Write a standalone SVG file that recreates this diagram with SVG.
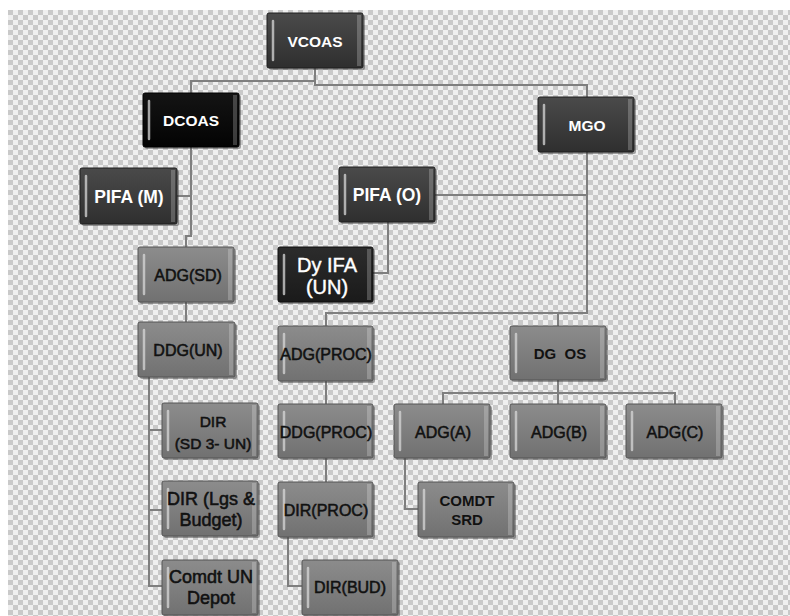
<svg xmlns="http://www.w3.org/2000/svg" width="790" height="616" viewBox="0 0 790 616">
<defs>
<pattern id="chk" x="8" y="10" width="10" height="10" patternUnits="userSpaceOnUse">
<rect width="10" height="10" fill="#efefef"/>
<rect width="5" height="5" fill="#c9c9c9"/>
<rect x="5" y="5" width="5" height="5" fill="#c9c9c9"/>
</pattern>
<linearGradient id="gDark" x1="0" y1="0" x2="0" y2="1">
<stop offset="0" stop-color="#4a4a4a"/><stop offset="1" stop-color="#2f2f2f"/>
</linearGradient>
<linearGradient id="gBlack" x1="0" y1="0" x2="0" y2="1">
<stop offset="0" stop-color="#141414"/><stop offset="1" stop-color="#030303"/>
</linearGradient>
<linearGradient id="gDy" x1="0" y1="0" x2="0" y2="1">
<stop offset="0" stop-color="#2c2c2c"/><stop offset="1" stop-color="#1a1a1a"/>
</linearGradient>
<linearGradient id="gGray" x1="0" y1="0" x2="0" y2="1">
<stop offset="0" stop-color="#8c8c8c"/><stop offset="1" stop-color="#717171"/>
</linearGradient>
</defs>
<style>
.conn path{fill:none;stroke:#7e7e7e;stroke-width:2}
.shadow{fill:#3a3a3a;opacity:.45}
.dark{fill:url(#gDark);stroke:#1e1e1e;stroke-width:1}
.black{fill:url(#gBlack);stroke:#000;stroke-width:1}
.dy{fill:url(#gDy);stroke:#0e0e0e;stroke-width:1}
.gray{fill:url(#gGray);stroke:#555;stroke-width:1}
.hl{stroke:#d8d8d8;stroke-width:2.5;stroke-linecap:round;opacity:.75}
.hlr{fill:#ffffff;opacity:.22}
.tw{fill:#ffffff;font-family:"Liberation Sans",Arial,sans-serif;font-weight:bold;text-anchor:middle}
.tb{fill:#111111;font-family:"Liberation Sans",Arial,sans-serif;text-anchor:middle;stroke:#111;stroke-width:0.55}
.tbb{fill:#111111;font-family:"Liberation Sans",Arial,sans-serif;font-weight:bold;text-anchor:middle}
</style>
<rect width="790" height="616" fill="#ffffff"/>
<rect x="8" y="10" width="782" height="606" fill="url(#chk)"/>

<g class="conn" id="connectors">
<path d="M315,68 V85 H587 V97"/>
<path d="M315,81 H191 V93"/>
<path d="M191,147 V196 H177"/>
<path d="M191,196 V236 H186 V247"/>
<path d="M186,302 V322"/>
<path d="M149,377 V586 H162"/>
<path d="M149,430 H162"/>
<path d="M149,510 H162"/>
<path d="M587,152 V313 H326 V326"/>
<path d="M587,195 H435"/>
<path d="M558,313 V326"/>
<path d="M388,222 V273 H373"/>
<path d="M326,381 V404"/>
<path d="M326,458 V482"/>
<path d="M288,537 V586 H302"/>
<path d="M558,380 V404"/>
<path d="M443,404 V393 H675 V404"/>
<path d="M405,458 V509 H418"/>
</g>

<g id="vcoas">
<rect class="shadow" x="269" y="15" width="96" height="55" rx="2"/>
<rect class="dark" x="267" y="13" width="96" height="55" rx="2"/>
<line class="hl" x1="273" y1="21" x2="273" y2="60"/>
<rect class="hlr" x="357" y="15" width="4" height="51"/>
<text class="tw" x="315" y="47" font-size="15.5">VCOAS</text>
</g>
<g id="dcoas">
<rect class="shadow" x="145" y="95" width="96" height="54" rx="2"/>
<rect class="black" x="143" y="93" width="96" height="54" rx="2"/>
<line class="hl" x1="149" y1="101" x2="149" y2="139"/>
<rect class="hlr" x="233" y="95" width="4" height="50"/>
<text class="tw" x="191" y="126" font-size="15.5">DCOAS</text>
</g>
<g id="mgo">
<rect class="shadow" x="540" y="99" width="96" height="55" rx="2"/>
<rect class="dark" x="538" y="97" width="96" height="55" rx="2"/>
<line class="hl" x1="544" y1="105" x2="544" y2="144"/>
<rect class="hlr" x="628" y="99" width="4" height="51"/>
<text class="tw" x="587" y="131" font-size="15.5">MGO</text>
</g>
<g id="pifa-m">
<rect class="shadow" x="82" y="170" width="97" height="56" rx="2"/>
<rect class="dark" x="80" y="168" width="97" height="56" rx="2"/>
<line class="hl" x1="86" y1="176" x2="86" y2="216"/>
<rect class="hlr" x="171" y="170" width="4" height="52"/>
<text class="tw" x="129" y="203" font-size="17.5">PIFA (M)</text>
</g>
<g id="pifa-o">
<rect class="shadow" x="341" y="169" width="96" height="55" rx="2"/>
<rect class="dark" x="339" y="167" width="96" height="55" rx="2"/>
<line class="hl" x1="345" y1="175" x2="345" y2="214"/>
<rect class="hlr" x="429" y="169" width="4" height="51"/>
<text class="tw" x="387" y="201" font-size="17.5">PIFA (O)</text>
</g>
<g id="adg-sd">
<rect class="shadow" x="140" y="249" width="96" height="55" rx="2"/>
<rect class="gray" x="138" y="247" width="96" height="55" rx="2"/>
<line class="hl" x1="144" y1="255" x2="144" y2="294"/>
<rect class="hlr" x="228" y="249" width="4" height="51"/>
<text class="tb" x="188" y="281" font-size="16">ADG(SD)</text>
</g>
<g id="dy-ifa">
<rect class="shadow" x="280" y="249" width="95" height="55" rx="2"/>
<rect class="dy" x="278" y="247" width="95" height="55" rx="2"/>
<line class="hl" x1="284" y1="255" x2="284" y2="294"/>
<rect class="hlr" x="367" y="249" width="4" height="51"/>
<text x="327" y="272" font-size="20" fill="#ffffff" stroke="#ffffff" stroke-width="0.4" font-family="Liberation Sans, Arial, sans-serif" text-anchor="middle">Dy IFA</text>
<text x="327" y="294" font-size="20" fill="#ffffff" stroke="#ffffff" stroke-width="0.4" font-family="Liberation Sans, Arial, sans-serif" text-anchor="middle">(UN)</text>
</g>
<g id="ddg-un">
<rect class="shadow" x="140" y="324" width="97" height="55" rx="2"/>
<rect class="gray" x="138" y="322" width="97" height="55" rx="2"/>
<line class="hl" x1="144" y1="330" x2="144" y2="369"/>
<rect class="hlr" x="229" y="324" width="4" height="51"/>
<text class="tb" x="188" y="356" font-size="16">DDG(UN)</text>
</g>
<g id="adg-proc">
<rect class="shadow" x="280" y="328" width="95" height="55" rx="2"/>
<rect class="gray" x="278" y="326" width="95" height="55" rx="2"/>
<line class="hl" x1="284" y1="334" x2="284" y2="373"/>
<rect class="hlr" x="367" y="328" width="4" height="51"/>
<text class="tb" x="326" y="360" font-size="16">ADG(PROC)</text>
</g>
<g id="dg-os">
<rect class="shadow" x="512" y="328" width="96" height="54" rx="2"/>
<rect class="gray" x="510" y="326" width="96" height="54" rx="2"/>
<line class="hl" x1="516" y1="334" x2="516" y2="372"/>
<rect class="hlr" x="600" y="328" width="4" height="50"/>
<text class="tbb" x="560" y="359" font-size="15" xml:space="preserve">DG  OS</text>
</g>
<g id="dir-sd">
<rect class="shadow" x="164" y="405" width="96" height="55" rx="2"/>
<rect class="gray" x="162" y="403" width="96" height="55" rx="2"/>
<line class="hl" x1="168" y1="411" x2="168" y2="450"/>
<rect class="hlr" x="252" y="405" width="4" height="51"/>
<text class="tb" x="213" y="427" font-size="15.5">DIR</text>
<text class="tb" x="213" y="449" font-size="15.5">(SD 3- UN)</text>
</g>
<g id="ddg-proc">
<rect class="shadow" x="280" y="406" width="95" height="54" rx="2"/>
<rect class="gray" x="278" y="404" width="95" height="54" rx="2"/>
<line class="hl" x1="284" y1="412" x2="284" y2="450"/>
<rect class="hlr" x="367" y="406" width="4" height="50"/>
<text class="tb" x="326" y="438" font-size="16">DDG(PROC)</text>
</g>
<g id="adg-a">
<rect class="shadow" x="396" y="406" width="96" height="54" rx="2"/>
<rect class="gray" x="394" y="404" width="96" height="54" rx="2"/>
<line class="hl" x1="400" y1="412" x2="400" y2="450"/>
<rect class="hlr" x="484" y="406" width="4" height="50"/>
<text class="tb" x="443" y="438" font-size="16">ADG(A)</text>
</g>
<g id="adg-b">
<rect class="shadow" x="512" y="406" width="96" height="54" rx="2"/>
<rect class="gray" x="510" y="404" width="96" height="54" rx="2"/>
<line class="hl" x1="516" y1="412" x2="516" y2="450"/>
<rect class="hlr" x="600" y="406" width="4" height="50"/>
<text class="tb" x="559" y="438" font-size="16">ADG(B)</text>
</g>
<g id="adg-c">
<rect class="shadow" x="628" y="406" width="96" height="54" rx="2"/>
<rect class="gray" x="626" y="404" width="96" height="54" rx="2"/>
<line class="hl" x1="632" y1="412" x2="632" y2="450"/>
<rect class="hlr" x="716" y="406" width="4" height="50"/>
<text class="tb" x="675" y="438" font-size="16">ADG(C)</text>
</g>
<g id="dir-lgs">
<rect class="shadow" x="164" y="483" width="96" height="55" rx="2"/>
<rect class="gray" x="162" y="481" width="96" height="55" rx="2"/>
<line class="hl" x1="168" y1="489" x2="168" y2="528"/>
<rect class="hlr" x="252" y="483" width="4" height="51"/>
<text class="tb" x="211" y="505" font-size="18">DIR (Lgs &amp;</text>
<text class="tb" x="211" y="526" font-size="18">Budget)</text>
</g>
<g id="dir-proc">
<rect class="shadow" x="280" y="484" width="95" height="55" rx="2"/>
<rect class="gray" x="278" y="482" width="95" height="55" rx="2"/>
<line class="hl" x1="284" y1="490" x2="284" y2="529"/>
<rect class="hlr" x="367" y="484" width="4" height="51"/>
<text class="tb" x="326" y="516" font-size="16">DIR(PROC)</text>
</g>
<g id="comdt-srd">
<rect class="shadow" x="420" y="484" width="96" height="55" rx="2"/>
<rect class="gray" x="418" y="482" width="96" height="55" rx="2"/>
<line class="hl" x1="424" y1="490" x2="424" y2="529"/>
<rect class="hlr" x="508" y="484" width="4" height="51"/>
<text class="tbb" x="467" y="506" font-size="15">COMDT</text>
<text class="tbb" x="467" y="525" font-size="15">SRD</text>
</g>
<g id="comdt-un-depot">
<rect class="shadow" x="164" y="562" width="96" height="55" rx="2"/>
<rect class="gray" x="162" y="560" width="96" height="55" rx="2"/>
<line class="hl" x1="168" y1="568" x2="168" y2="607"/>
<rect class="hlr" x="252" y="562" width="4" height="51"/>
<text class="tb" x="211" y="583" font-size="18">Comdt UN</text>
<text class="tb" x="211" y="604" font-size="18">Depot</text>
</g>
<g id="dir-bud">
<rect class="shadow" x="304" y="562" width="96" height="55" rx="2"/>
<rect class="gray" x="302" y="560" width="96" height="55" rx="2"/>
<line class="hl" x1="308" y1="568" x2="308" y2="607"/>
<rect class="hlr" x="392" y="562" width="4" height="51"/>
<text class="tb" x="350" y="593" font-size="16">DIR(BUD)</text>
</g>
</svg>
